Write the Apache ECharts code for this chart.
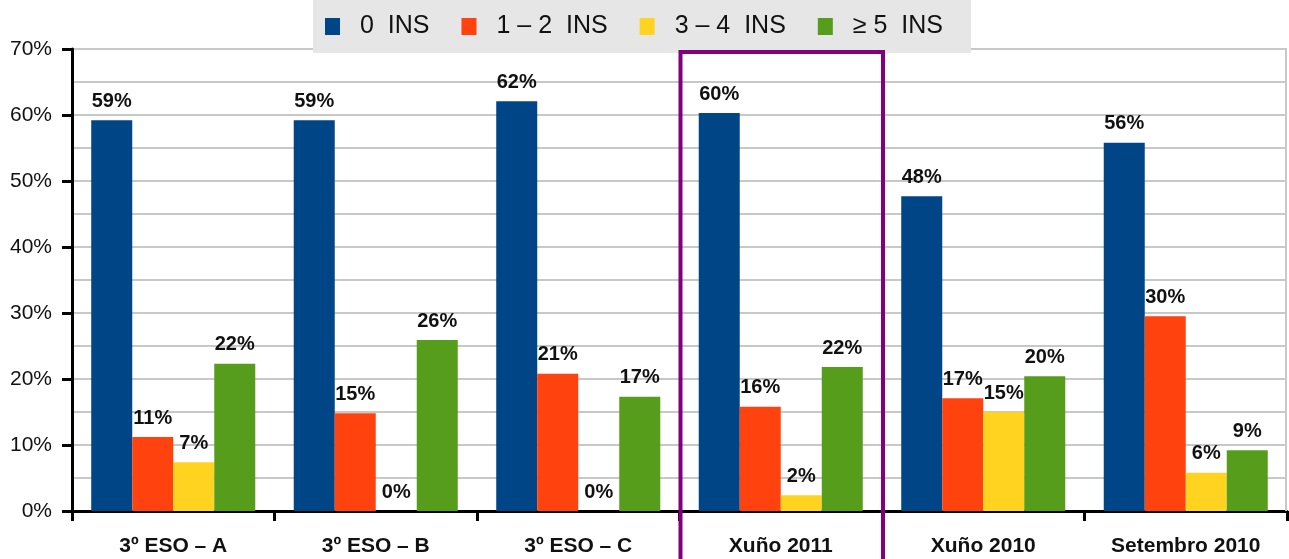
<!DOCTYPE html>
<html>
<head>
    <meta charset="utf-8">
    <title>INS por grupo</title>
    <script src="https://cdn.jsdelivr.net/npm/echarts@6/dist/echarts.min.js"></script>
</head>
<body style="margin:0">
<div id="main" style="width: 1289px;height:559px;"></div>
<script type="text/javascript">
    // datos
    var categories = ['3º ESO – A', '3º ESO – B', '3º ESO – C', 'Xuño 2011', 'Xuño 2010', 'Setembro 2010'];
    var seriesNames = ['0  INS', '1 – 2  INS', '3 – 4  INS', '≥ 5  INS'];
    var ins0 = [59.2, 59.2, 62.1, 60.3, 47.7, 55.8];
    var ins12 = [11.2, 14.8, 20.8, 15.8, 17.1, 29.5];
    var ins34 = [7.4, 0, 0, 2.4, 15.0, 5.8];
    var ins5 = [22.3, 25.9, 17.3, 21.8, 20.4, 9.2];
    var yTicks = ['0%', '10%', '20%', '30%', '40%', '50%', '60%', '70%'];
    var highlighted = 'Xuño 2011';

    var colors = ['#004586', '#ff420e', '#ffd320', '#579d1c'];
    var font = 'Liberation Sans, Arial, sans-serif';

    var myChart = echarts.init(document.getElementById('main'));

    function barSeries(name, data) {
        return {
            name: name,
            type: 'bar',
            data: data,
            barGap: '0%',
            barCategoryGap: '19%',
            label: {
                show: true,
                position: 'top',
                distance: 9,
                fontFamily: font,
                fontWeight: 'bold',
                fontSize: 20,
                color: '#111',
                formatter: function (p) { return Math.round(p.value) + '%'; }
            }
        };
    }

    var option = {
        animation: false,
        color: colors,
        legend: {
            top: 0,
            left: 313,
            padding: [14, 28, 14, 12],
            backgroundColor: '#e6e6e6',
            itemWidth: 15,
            itemHeight: 17,
            itemGap: 32,
            icon: 'rect',
            textStyle: { fontFamily: font, fontSize: 25, color: '#111', padding: [0, 0, 0, 15] },
            data: seriesNames
        },
        grid: { left: 72, right: 2, top: 49, bottom: 48 },
        xAxis: {
            type: 'category',
            data: categories,
            axisLine: { lineStyle: { color: '#000', width: 3 } },
            axisTick: { show: true, interval: 0, length: 10, lineStyle: { color: '#000', width: 3 } },
            axisLabel: { interval: 0, margin: 25, fontFamily: font, fontWeight: 'bold', fontSize: 21, color: '#111' }
        },
        yAxis: {
            type: 'value',
            min: 0,
            max: 70,
            interval: 10,
            axisLine: { show: true, lineStyle: { color: '#000', width: 3 } },
            axisTick: { show: true, length: 10, lineStyle: { color: '#000', width: 3 } },
            axisLabel: {
                margin: 20,
                fontFamily: font,
                fontSize: 21,
                color: '#111',
                formatter: function (v) { return yTicks[Math.round(v / 10)]; }
            },
            splitLine: { lineStyle: { color: '#c8c8c8', width: 2 } },
            minorTick: { show: false, splitNumber: 2 },
            minorSplitLine: { show: true, lineStyle: { color: '#c8c8c8', width: 2 } }
        },
        series: [
            barSeries(seriesNames[0], ins0),
            barSeries(seriesNames[1], ins12),
            barSeries(seriesNames[2], ins34),
            barSeries(seriesNames[3], ins5)
        ]
    };
    myChart.setOption(option);

    // borde derecho del área y recuadro morado del grupo destacado
    var idx = categories.indexOf(highlighted);
    var c0 = myChart.convertToPixel({ xAxisIndex: 0 }, categories[idx]);
    var band = myChart.convertToPixel({ xAxisIndex: 0 }, categories[1]) - myChart.convertToPixel({ xAxisIndex: 0 }, categories[0]);
    var yTop = myChart.convertToPixel({ yAxisIndex: 0 }, 70);
    var yBot = myChart.convertToPixel({ yAxisIndex: 0 }, 0);
    var xRight = myChart.convertToPixel({ xAxisIndex: 0 }, categories[categories.length - 1]) + band / 2;

    myChart.setOption({
        graphic: [
            {
                type: 'line',
                shape: { x1: xRight - 1, y1: yTop, x2: xRight - 1, y2: yBot },
                style: { stroke: '#c8c8c8', lineWidth: 2 },
                z: 1
            },
            {
                type: 'rect',
                shape: { x: c0 - band / 2 + 1, y: yTop + 3, width: band, height: 600 },
                style: { fill: 'none', stroke: '#800080', lineWidth: 4 },
                z: 10
            }
        ]
    });
</script>
</body>
</html>
